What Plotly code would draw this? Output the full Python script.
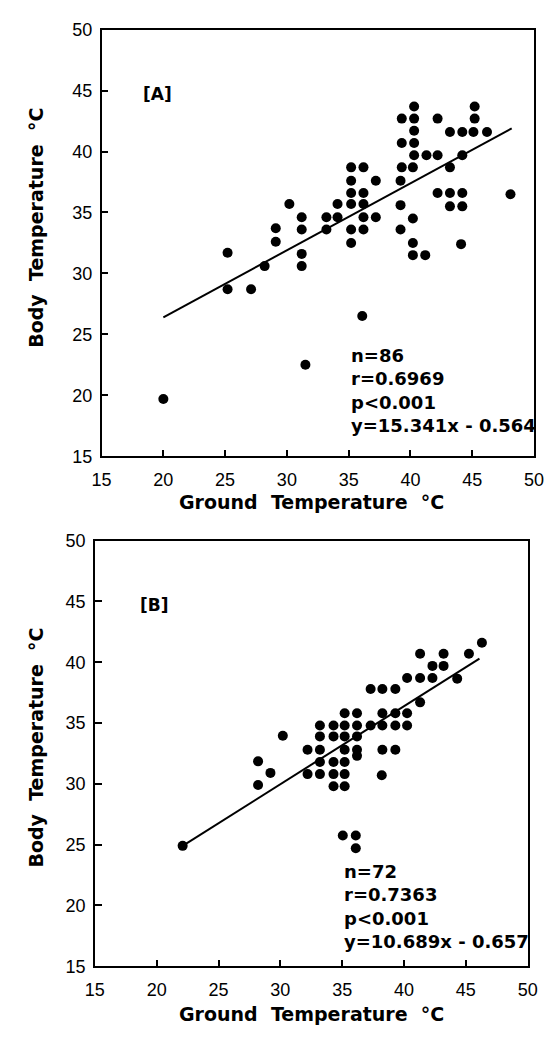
import plotly.graph_objects as go

# Panel A: ground vs body temperature
ground_a = [40.3, 45.2,
            39.3, 40.3, 42.2, 45.2,
            40.3, 43.2, 44.2, 45.1, 46.2,
            39.3, 40.3,
            40.3, 41.3, 42.2, 44.2,
            35.2, 36.2, 39.3, 40.2, 43.2,
            35.2, 37.2, 39.2,
            35.2, 36.2, 42.2, 43.2, 44.2, 48.1,
            30.2, 34.1, 35.2, 36.2, 39.2, 43.2, 44.2,
            31.2, 33.2, 34.1, 36.2, 37.2, 40.2,
            29.1, 31.2, 33.2, 35.2, 36.2, 39.2,
            29.1, 35.2, 40.2, 44.1,
            25.2, 31.2, 40.2, 41.2,
            28.2, 31.2,
            25.2, 27.1,
            36.1, 31.5, 20.0]
body_a = [43.7, 43.7,
          42.7, 42.7, 42.7, 42.7,
          41.7, 41.6, 41.6, 41.6, 41.6,
          40.7, 40.7,
          39.7, 39.7, 39.7, 39.7,
          38.7, 38.7, 38.7, 38.7, 38.7,
          37.6, 37.6, 37.6,
          36.6, 36.6, 36.6, 36.6, 36.6, 36.5,
          35.7, 35.7, 35.7, 35.7, 35.6, 35.5, 35.5,
          34.6, 34.6, 34.6, 34.6, 34.6, 34.5,
          33.7, 33.6, 33.6, 33.6, 33.6, 33.6,
          32.6, 32.5, 32.5, 32.4,
          31.7, 31.6, 31.5, 31.5,
          30.6, 30.6,
          28.7, 28.7,
          26.5, 22.5, 19.7]
fit_a_x = [20.0, 48.2]
fit_a_y = [26.4, 41.9]

# Panel B
ground_b = [46.3,
            41.3, 43.2, 45.25,
            42.3, 43.2,
            40.25, 41.3, 42.3, 44.3,
            37.3, 38.25, 39.3,
            41.3,
            35.2, 36.2, 38.25, 39.3, 40.25,
            33.2, 34.3, 35.2, 36.2, 37.3, 38.25, 39.3, 40.25,
            30.2, 33.2, 34.3, 35.2, 36.2,
            32.2, 33.2, 35.2, 36.2, 38.25, 39.3,
            36.2,
            28.2, 33.2, 34.3, 35.2,
            29.2, 32.2, 33.2, 34.3, 35.2, 38.2,
            28.2, 34.3, 35.2,
            35.05, 36.1, 36.1, 22.1]
body_b = [41.6,
          40.7, 40.7, 40.7,
          39.7, 39.7,
          38.7, 38.7, 38.7, 38.65,
          37.8, 37.8, 37.8,
          36.7,
          35.8, 35.8, 35.8, 35.8, 35.8,
          34.8, 34.8, 34.8, 34.8, 34.8, 34.8, 34.8, 34.8,
          33.95, 33.9, 33.9, 33.9, 33.9,
          32.8, 32.8, 32.8, 32.8, 32.8, 32.8,
          32.3,
          31.85, 31.8, 31.8, 31.8,
          30.9, 30.8, 30.8, 30.8, 30.8, 30.7,
          29.9, 29.8, 29.8,
          25.75, 25.75, 24.7, 24.9]
fit_b_x = [22.1, 46.1]
fit_b_y = [24.9, 40.3]

tick_vals = [15, 20, 25, 30, 35, 40, 45, 50]
stats_a = 'n=86<br>r=0.6969<br>p<0.001<br>y=15.341x - 0.564'
stats_b = 'n=72<br>r=0.7363<br>p<0.001<br>y=10.689x - 0.657'

W, H = 556, 1041
BOLD = 'DejaVu Sans'


def px(x):  # pixel -> paper x
    return x / W


def py(y):  # pixel -> paper y
    return 1 - y / H


fig = go.Figure()

fig.add_trace(go.Scatter(x=ground_a, y=body_a, mode='markers',
                         marker=dict(color='black', size=10), xaxis='x', yaxis='y'))
fig.add_trace(go.Scatter(x=fit_a_x, y=fit_a_y, mode='lines',
                         line=dict(color='black', width=2), xaxis='x', yaxis='y'))
fig.add_trace(go.Scatter(x=ground_b, y=body_b, mode='markers',
                         marker=dict(color='black', size=10), xaxis='x2', yaxis='y2'))
fig.add_trace(go.Scatter(x=fit_b_x, y=fit_b_y, mode='lines',
                         line=dict(color='black', width=2), xaxis='x2', yaxis='y2'))

axis_style = dict(range=[15, 50], tickvals=tick_vals, ticks='inside', ticklen=7,
                  tickwidth=1.5, tickcolor='black', showline=True, linecolor='black',
                  linewidth=1.5, mirror=True, showgrid=False, zeroline=False,
                  tickfont=dict(family='Liberation Sans', size=18, color='black'))

fig.update_layout(
    width=W, height=H,
    margin=dict(l=0, r=0, t=0, b=0),
    paper_bgcolor='white', plot_bgcolor='white',
    showlegend=False,
    xaxis=dict(domain=[px(95), px(543.5)], anchor='y', ticklabelstandoff=6, **axis_style),
    yaxis=dict(domain=[py(455), py(20)], anchor='x', ticklabelstandoff=4, **axis_style),
    xaxis2=dict(domain=[px(88), px(537)], anchor='y2', ticklabelstandoff=6, **axis_style),
    yaxis2=dict(domain=[py(975), py(541)], anchor='x2', ticklabelstandoff=4, **axis_style),
)

title_font = dict(family=BOLD, size=19, color='black')
title_x = '<b>Ground\u00a0 Temperature\u00a0 °C</b>'
title_y = '<b>Body\u00a0 Temperature\u00a0 °C</b>'
# axis titles
fig.add_annotation(x=px(313), y=py(502), xref='paper', yref='paper', showarrow=False,
                   xanchor='center', yanchor='middle', text=title_x, font=title_font)
fig.add_annotation(x=px(313), y=py(1024), xref='paper', yref='paper', showarrow=False,
                   xanchor='center', yanchor='middle', text=title_x, font=title_font)
fig.add_annotation(x=px(27), y=py(222), xref='paper', yref='paper', showarrow=False,
                   xanchor='center', yanchor='middle', textangle=-90, text=title_y, font=title_font)
fig.add_annotation(x=px(27), y=py(752), xref='paper', yref='paper', showarrow=False,
                   xanchor='center', yanchor='middle', textangle=-90, text=title_y, font=title_font)

# panel labels
fig.add_annotation(x=19.5, y=44.7, xref='x', yref='y', showarrow=False,
                   text='<b>[A]</b>', font=dict(family=BOLD, size=17, color='black'))
fig.add_annotation(x=19.8, y=44.7, xref='x2', yref='y2', showarrow=False,
                   text='<b>[B]</b>', font=dict(family=BOLD, size=17, color='black'))

# statistics
stats_font = dict(family=BOLD, size=18, color='black')
fig.add_annotation(x=35.0, y=20.4, xref='x', yref='y', xanchor='left', yanchor='middle',
                   align='left', showarrow=False,
                   text='<b>' + stats_a.replace('<br>', '</b><br><b>') + '</b>', font=stats_font)
fig.add_annotation(x=35.0, y=19.9, xref='x2', yref='y2', xanchor='left', yanchor='middle',
                   align='left', showarrow=False,
                   text='<b>' + stats_b.replace('<br>', '</b><br><b>') + '</b>', font=stats_font)

# drop the default 8px page margin so the figure sits at the window's corner
fig.write_html("out.html", config={'displayModeBar': False},
               post_script="document.body.style.margin='0';")
